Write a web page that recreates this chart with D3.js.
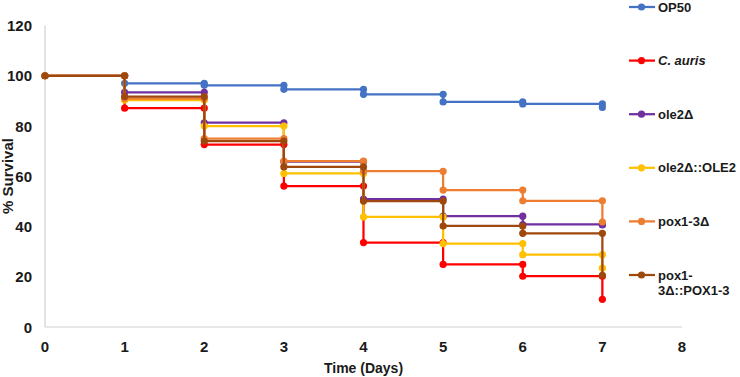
<!DOCTYPE html>
<html>
<head>
<meta charset="utf-8">
<script src="https://cdn.jsdelivr.net/npm/d3@7"></script>
<style>
  body { margin: 0; background: #fff; }
  text { font-family: "Liberation Sans", Arial, sans-serif; font-weight: bold; fill: #1a1a1a; }
</style>
</head>
<body>
<div id="chart"></div>
<script>
// survival (%) after the events of each day
var days = [0, 1, 2, 3, 4, 5, 6, 7];
var op50 = [100, 97.0, 96.2, 94.6, 92.6, 89.6, 88.8, 87.4];
var cAuris = [100, 87.1, 72.6, 56.1, 33.6, 24.9, 20.2, 11.0];
var ole2 = [100, 93.4, 81.3, 65.8, 50.9, 44.1, 40.8, 40.6];
var ole2Ole2 = [100, 90.3, 80.0, 61.1, 43.8, 33.2, 28.8, 23.4];
var pox13 = [100, 90.9, 75.0, 66.0, 62.0, 54.5, 50.2, 41.8];
var pox13Pox = [100, 91.7, 74.0, 63.7, 50.1, 40.2, 37.3, 20.6];

var seriesNames = ["OP50", "C. auris", "ole2Δ", "ole2Δ::OLE2", "pox1-3Δ", "pox1-3Δ::POX1-3"];
var seriesValues = [op50, cAuris, ole2, ole2Ole2, pox13, pox13Pox];
var seriesColors = ["#4472C4", "#FF0000", "#7030A0", "#FFC000", "#ED7D31", "#9E480E"];

var yTicks = [0, 20, 40, 60, 80, 100, 120];
var xTicks = [0, 1, 2, 3, 4, 5, 6, 7, 8];

var width = 740, height = 377;
var margin = {top: 25.5, right: 58, bottom: 50, left: 45};

var svg = d3.select("#chart").append("svg")
    .attr("width", width)
    .attr("height", height);

var x = d3.scaleLinear().domain([0, 8]).range([margin.left, width - margin.right]);
var y = d3.scaleLinear().domain([0, 120]).range([height - margin.bottom, margin.top]);

// axis lines
svg.append("line")
    .attr("x1", x(0)).attr("x2", x(0))
    .attr("y1", y(120)).attr("y2", y(0))
    .attr("stroke", "#d0d0d0").attr("stroke-width", 1.2);
svg.append("line")
    .attr("x1", x(0)).attr("x2", x(8))
    .attr("y1", y(0)).attr("y2", y(0))
    .attr("stroke", "#d0d0d0").attr("stroke-width", 1.2);

// tick labels
svg.selectAll(".ytick").data(yTicks).enter().append("text")
    .attr("class", "ytick")
    .attr("x", 32)
    .attr("y", function(d) { return y(d) + 5.5; })
    .attr("text-anchor", "end")
    .style("font-size", "15px")
    .text(function(d) { return d; });

svg.selectAll(".xtick").data(xTicks).enter().append("text")
    .attr("class", "xtick")
    .attr("x", function(d) { return x(d); })
    .attr("y", 352)
    .attr("text-anchor", "middle")
    .style("font-size", "15px")
    .text(function(d) { return d; });

// axis titles
svg.append("text")
    .attr("transform", "translate(13," + 176 + ") rotate(-90)")
    .attr("text-anchor", "middle")
    .style("font-size", "15px")
    .text("% Survival");

svg.append("text")
    .attr("x", (x(0) + x(8)) / 2)
    .attr("y", 373)
    .attr("text-anchor", "middle")
    .style("font-size", "14px")
    .text("Time (Days)");

// step points: before and after each day's drop
function stepPoints(vals) {
    var pts = [[days[0], vals[0]]];
    for (var i = 1; i < days.length; i++) {
        pts.push([days[i], vals[i - 1]]);
        pts.push([days[i], vals[i]]);
    }
    return pts;
}

var line = d3.line()
    .x(function(d) { return x(d[0]); })
    .y(function(d) { return y(d[1]); });

seriesValues.forEach(function(vals, i) {
    var pts = stepPoints(vals);
    var g = svg.append("g");
    g.append("path")
        .attr("d", line(pts))
        .attr("fill", "none")
        .attr("stroke", seriesColors[i])
        .attr("stroke-width", 2.25);
    g.selectAll("circle").data(pts).enter().append("circle")
        .attr("cx", function(d) { return x(d[0]); })
        .attr("cy", function(d) { return y(d[1]); })
        .attr("r", 3.6)
        .attr("fill", seriesColors[i]);
});

// legend
var legend = svg.selectAll(".legend").data(seriesNames).enter().append("g")
    .attr("class", "legend")
    .attr("transform", function(d, i) { return "translate(0," + (7 + i * 53.6) + ")"; });

legend.append("line")
    .attr("x1", 629).attr("x2", 655)
    .attr("y1", 0).attr("y2", 0)
    .attr("stroke", function(d, i) { return seriesColors[i]; })
    .attr("stroke-width", 2.25);
legend.append("circle")
    .attr("cx", 641.5).attr("cy", 0).attr("r", 3.6)
    .attr("fill", function(d, i) { return seriesColors[i]; });

legend.each(function(d, i) {
    var t = d3.select(this).append("text")
        .attr("x", 658)
        .attr("y", 4.5)
        .style("font-size", "13px");
    if (d === "C. auris") {
        t.style("font-style", "italic").text(d);
    } else if (d === "pox1-3Δ::POX1-3") {
        t.append("tspan").attr("x", 658).attr("dy", 0).text("pox1-");
        t.append("tspan").attr("x", 658).attr("dy", 15.5).text("3Δ::POX1-3");
    } else {
        t.text(d);
    }
});
</script>
</body>
</html>
